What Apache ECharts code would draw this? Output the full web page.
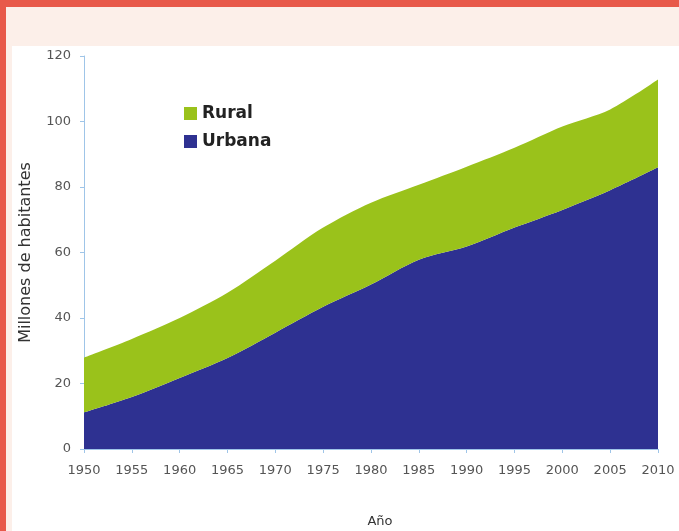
<!DOCTYPE html>
<html>
<head>
<meta charset="utf-8">
<script src="https://cdn.jsdelivr.net/npm/echarts@6/dist/echarts.min.js"></script>
<style>
  html, body { margin: 0; padding: 0; }
  body { width: 679px; height: 531px; background: #fcefe9; position: relative; overflow: hidden; }
  #topbar { position: absolute; left: 0; top: 0; width: 679px; height: 7px; background: #e8594a; }
  #leftbar { position: absolute; left: 0; top: 0; width: 6px; height: 531px; background: #e8594a; }
  #chart { position: absolute; left: 12px; top: 46px; width: 667px; height: 485px; background: #fff; }
</style>
</head>
<body>
<div id="topbar"></div>
<div id="leftbar"></div>
<div id="chart"></div>
<script>
// years on the x axis
const years = ["1950", "1955", "1960", "1965", "1970", "1975", "1980",
  "1985", "1990", "1995", "2000", "2005", "2010"];

// millions of people
const urbana = [11.2, 15.9, 21.7, 27.8, 35.5, 43.4, 50.2, 57.8, 61.8, 67.6, 73.0, 79.0, 86.0];
const rural = [16.7, 17.7, 18.3, 19.9, 22.0, 24.2, 25.0, 22.9, 24.4, 24.4, 25.5, 24.7, 26.8];

const GREEN = "#9ac21b";
const BLUE = "#2e3191";
const AXIS = "#9fc5e8";

const chart = echarts.init(document.getElementById("chart"));

const option = {
  backgroundColor: "#fff",
  animation: false,
  textStyle: { fontFamily: "DejaVu Sans" },
  grid: { left: 72, right: 21, top: 10, bottom: 82, outerBoundsMode: "none" },
  legend: {
    orient: "vertical",
    left: 167,
    top: 54,
    itemWidth: 13,
    itemHeight: 13,
    itemGap: 11,
    icon: "rect",
    data: ["Rural", "Urbana"],
    textStyle: { fontSize: 17, fontWeight: "bold", color: "#222", fontFamily: "DejaVu Sans" },
  },
  xAxis: {
    type: "category",
    data: years,
    boundaryGap: false,
    name: "Año",
    nameLocation: "middle",
    nameGap: 66,
    nameTextStyle: { fontSize: 13, color: "#333", padding: [0, 0, 0, 18] },
    axisLine: { lineStyle: { color: AXIS } },
    axisTick: { lineStyle: { color: AXIS }, length: 4 },
    axisLabel: { fontSize: 13, color: "#555", margin: 15 },
  },
  yAxis: {
    type: "value",
    min: 0,
    max: 120,
    interval: 20,
    name: "Millones de habitantes",
    nameLocation: "middle",
    nameGap: 50,
    nameTextStyle: { fontSize: 16, color: "#333" },
    axisLine: { show: true, lineStyle: { color: AXIS } },
    axisTick: { show: true, lineStyle: { color: AXIS }, length: 4 },
    axisLabel: { fontSize: 13, color: "#555", margin: 13 },
    splitLine: { show: false },
  },
  series: [
    {
      name: "Urbana",
      type: "line",
      stack: "total",
      data: urbana,
      symbol: "none",
      smooth: 0.3,
      lineStyle: { width: 0 },
      itemStyle: { color: BLUE },
      areaStyle: { color: BLUE, opacity: 1 },
    },
    {
      name: "Rural",
      type: "line",
      stack: "total",
      data: rural,
      symbol: "none",
      smooth: 0.3,
      lineStyle: { width: 0 },
      itemStyle: { color: GREEN },
      areaStyle: { color: GREEN, opacity: 1 },
    },
  ],
};

chart.setOption(option);
</script>
</body>
</html>
